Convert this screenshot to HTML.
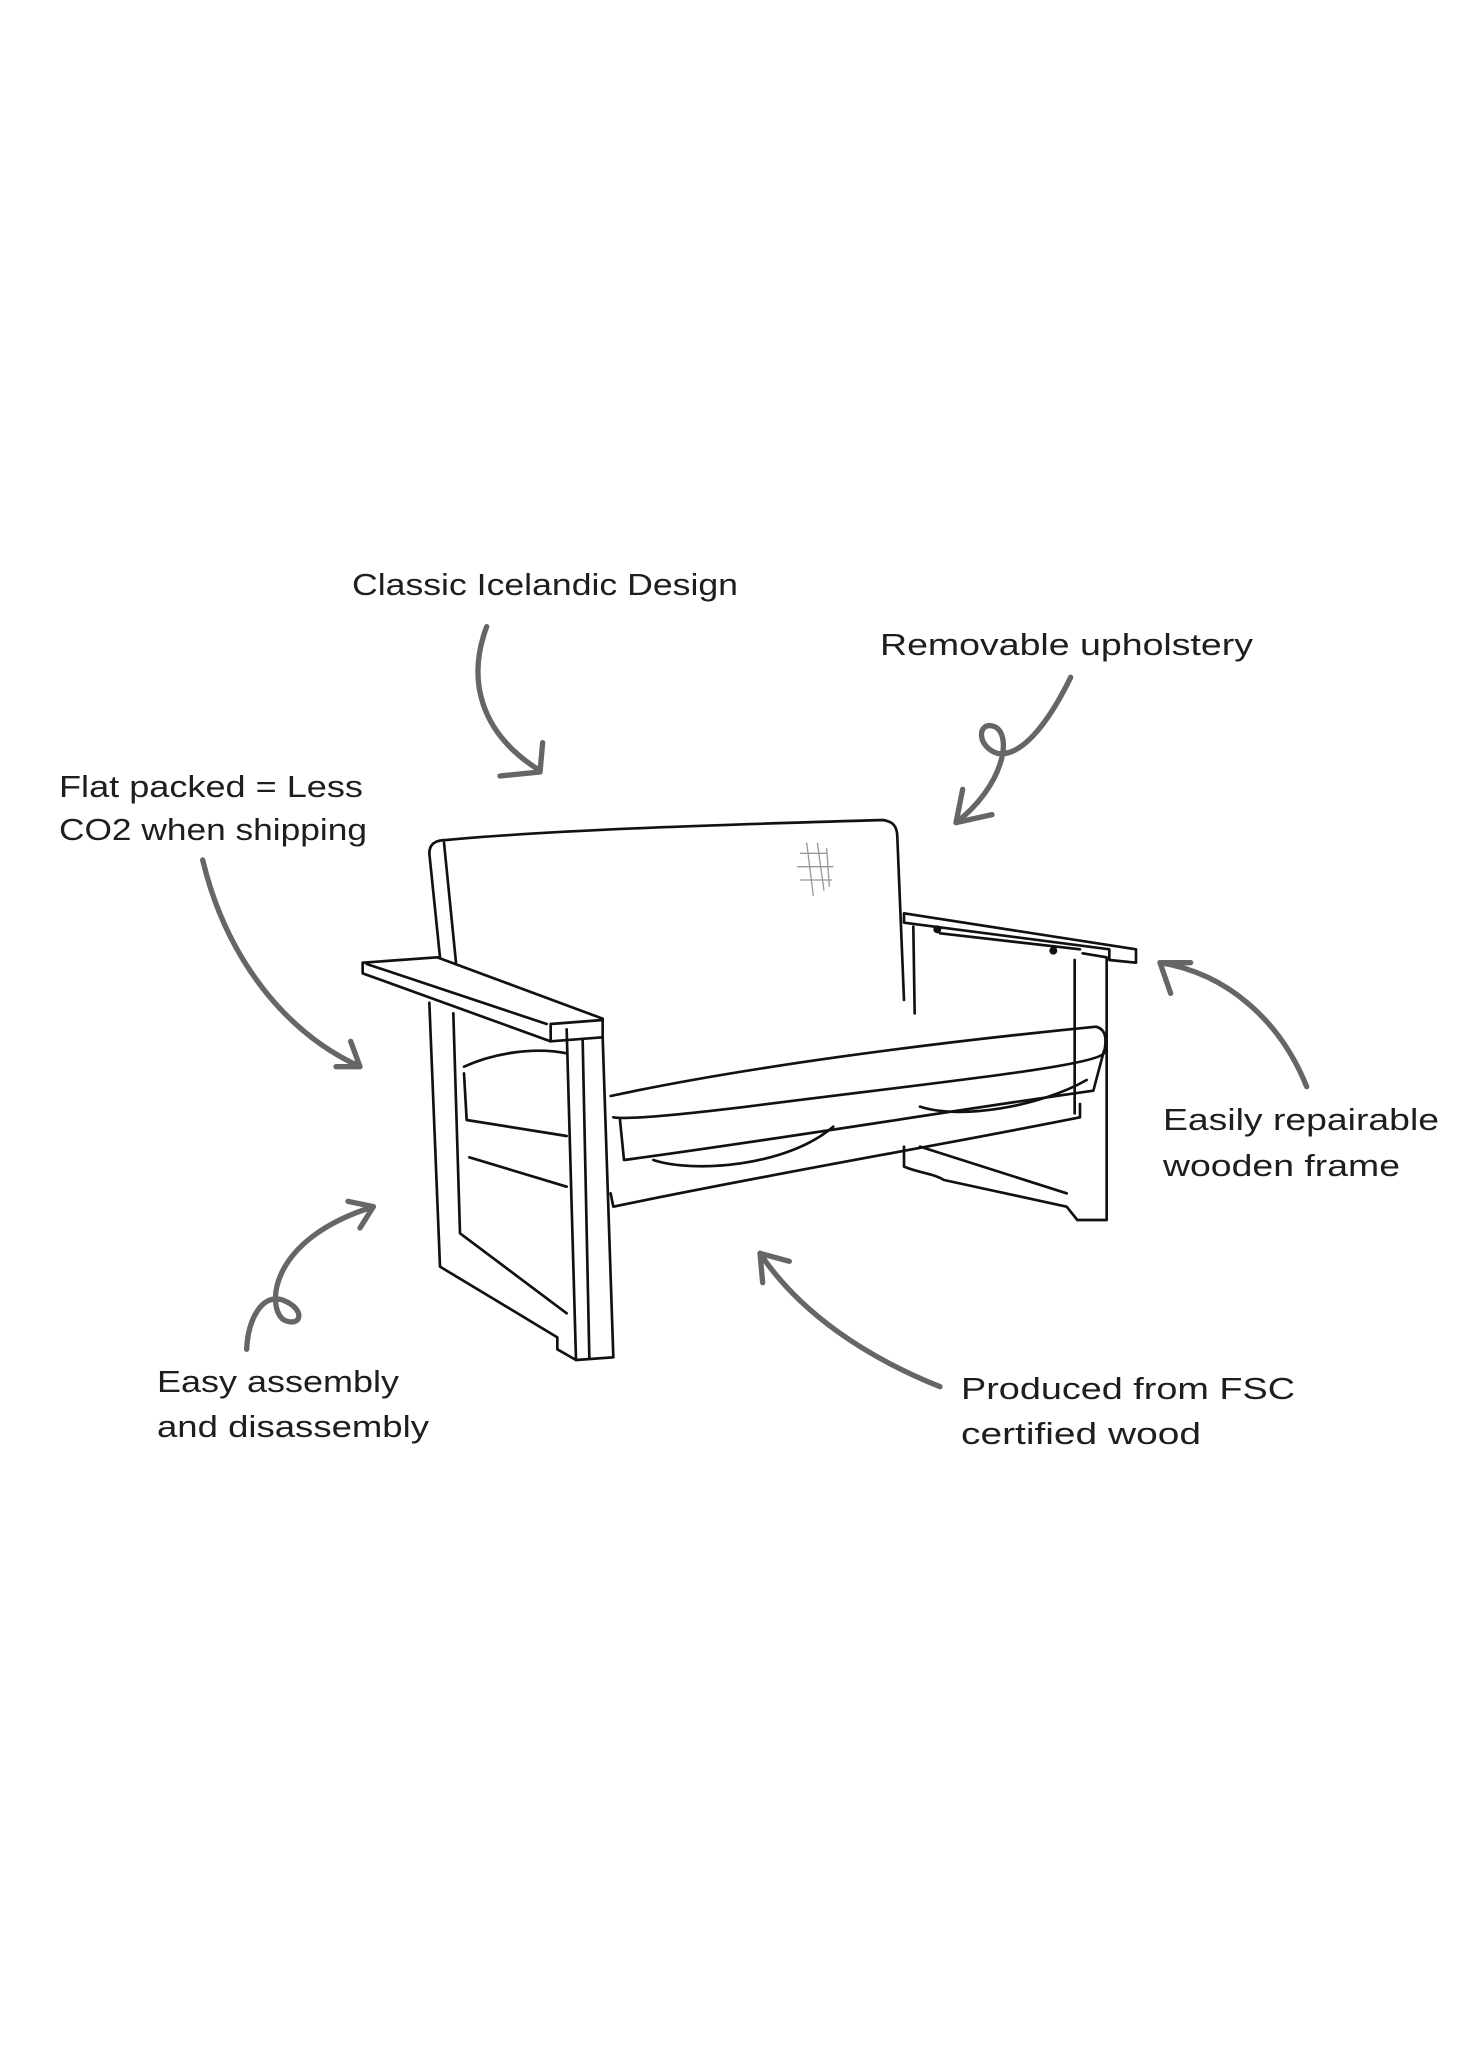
<!DOCTYPE html>
<html><head><meta charset="utf-8"><style>
html,body{margin:0;padding:0;background:#fff;}
svg{display:block;}
text{font-family:"Liberation Sans",sans-serif;font-size:31px;fill:#1e1e1e;}
</style></head><body>
<svg width="1472" height="2060" viewBox="0 0 1472 2060" xmlns="http://www.w3.org/2000/svg">
<text x="352" y="595" textLength="386" lengthAdjust="spacingAndGlyphs">Classic Icelandic Design</text>
<text x="880" y="655" textLength="373" lengthAdjust="spacingAndGlyphs">Removable upholstery</text>
<text x="59" y="797" textLength="304" lengthAdjust="spacingAndGlyphs">Flat packed = Less</text>
<text x="59" y="840" textLength="308" lengthAdjust="spacingAndGlyphs">CO2 when shipping</text>
<text x="1163" y="1130" textLength="276" lengthAdjust="spacingAndGlyphs">Easily repairable</text>
<text x="1163" y="1176" textLength="237" lengthAdjust="spacingAndGlyphs">wooden frame</text>
<text x="157" y="1392" textLength="242" lengthAdjust="spacingAndGlyphs">Easy assembly</text>
<text x="157" y="1437" textLength="272" lengthAdjust="spacingAndGlyphs">and disassembly</text>
<text x="961" y="1399" textLength="334" lengthAdjust="spacingAndGlyphs">Produced from FSC</text>
<text x="961" y="1444" textLength="240" lengthAdjust="spacingAndGlyphs">certified wood</text>
<g transform="scale(1.33333)">
<g fill="none" stroke="#666" stroke-width="4" stroke-linecap="round" stroke-linejoin="round">
<path d="M365,470 C350,510 360,550 405,578"/><path d="M375,582 L405,579 L407,557"/>
<path d="M803,508 C785,545 765,568 748,565 C732,560 733,540 746,545 C760,552 752,590 717,617"/><path d="M722,592 L717,617 L744,611"/>
<path d="M152,645 C170,720 215,775 270,800"/><path d="M252,800 L270,800 L263,781"/>
<path d="M980,815 C960,765 920,730 870,722"/><path d="M878,745 L870,722 L893,722"/>
<path d="M185,1012 C186,990 196,970 212,975 C230,982 226,996 213,990 C200,982 200,930 280,905"/><path d="M261,901 L280,905 L270,921"/>
<path d="M705,1040 C650,1018 600,985 570,940"/><path d="M572,962 L570,940 L592,946"/>
</g>
<g fill="none" stroke="#111" stroke-width="2" stroke-linejoin="round" stroke-linecap="round">
<!-- backrest -->
<path d="M322,640 C322,632 328,630 335,630 C420,622 560,618 662,615 C670,616 673,620 673,628 L678,750"/>
<path d="M333,632 L342,722"/>
<path d="M322,640 L330,718"/>
<!-- left arm -->
<path d="M272,722 L328,718 L452,764 L452,778 L413,781 L272,730 Z"/>
<path d="M413,768 L452,765 M413,768 L413,781 M410,768 L275,723"/>
<!-- left front leg -->
<path d="M425,772 L432,1020 L460,1018 L452,778"/>
<path d="M437,780 L442,1018"/>
<!-- left side frame -->
<path d="M322,752 L330,950 L418,1003 L418,1012 L432,1020"/>
<path d="M340,760 L345,925 L425,985"/>
<path d="M352,868 L425,890"/>
<!-- seat cushion -->
<path d="M458,822 C560,800 700,782 822,770 C830,772 830,780 828,790 C820,800 700,812 560,830 C510,836 470,840 460,838"/>
<path d="M465,840 L468,870 C580,855 720,832 820,818 L828,788"/>
<path d="M348,800 C370,790 400,785 425,790 M348,805 L350,840 L425,852"/>
<!-- front rail -->
<path d="M458,895 L460,905 C580,880 700,860 810,838 L810,828"/>
<path d="M490,870 C520,880 590,875 625,845 M690,830 C720,840 780,830 815,810"/>
<!-- right arm -->
<path d="M678,685 L852,712 L852,722 L832,720 L832,712 L678,692 Z"/>
<path d="M685,695 L686,760 M705,700 L810,712"/>
<circle cx="703" cy="697" r="2" fill="#111"/><circle cx="790" cy="713" r="2" fill="#111"/>
<path d="M812,715 L830,718 L830,915 L808,915"/>
<path d="M806,720 L806,835"/>
<!-- right bottom -->
<path d="M678,860 L678,875 C690,880 700,880 708,885 L800,905 L808,915"/>
<path d="M690,860 L800,895"/>
</g>
<g stroke="#999" stroke-width="1" fill="none">
<path d="M600,640 L620,640 M598,650 L625,650 M600,660 L624,660 M605,632 L610,672 M613,632 L618,668 M620,636 L622,665"/>
</g>
</g>
</svg>
</body></html>
